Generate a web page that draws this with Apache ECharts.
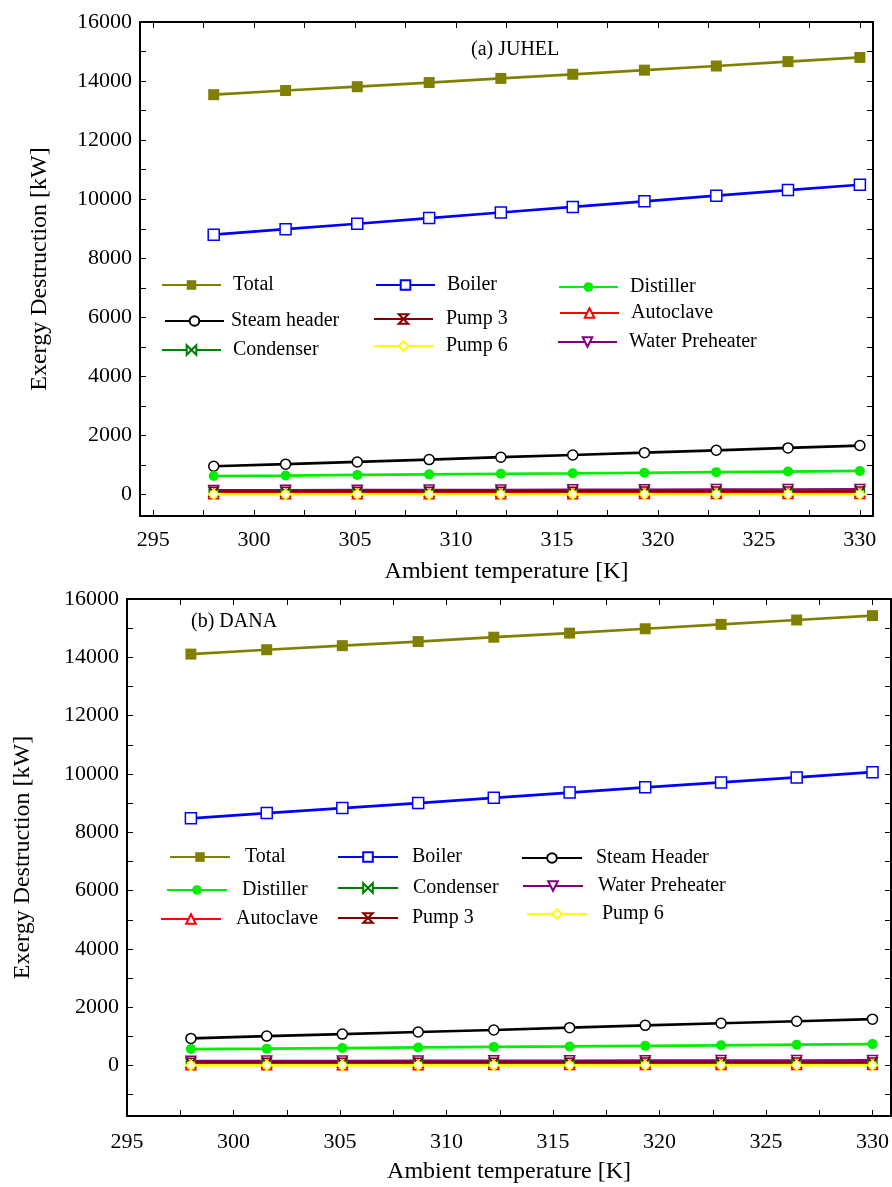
<!DOCTYPE html>
<html>
<head>
<meta charset="utf-8">
<script src="https://cdn.jsdelivr.net/npm/echarts@6/dist/echarts.min.js"></script>
<style>
html,body{margin:0;padding:0;background:#fff;}
#main{width:892px;height:1187px;}
</style>
</head>
<body>
<div id="main"></div>
<script>
// ---- data ----
const temps = [298, 301.56, 305.11, 308.67, 312.22, 315.78, 319.33, 322.89, 326.44, 330];

// (a) JUHEL
const juhelTotal = [13540, 13680, 13810, 13950, 14090, 14230, 14370, 14510, 14660, 14800];
const juhelBoiler = [8800, 8985, 9170, 9360, 9550, 9740, 9930, 10120, 10310, 10490];
const juhelSteam = [960, 1030, 1105, 1185, 1265, 1340, 1420, 1500, 1580, 1660];
const juhelDistiller = [630, 645, 665, 685, 705, 720, 740, 760, 780, 800];
const juhelWaterPre = [140, 144, 148, 152, 156, 160, 164, 168, 172, 176];
const juhelCondenser = [55, 56, 57, 58, 59, 60, 61, 62, 63, 64];
const juhelPump3 = [95, 96, 97, 98, 99, 100, 101, 102, 103, 104];
const juhelAutoclave = [30, 30, 31, 31, 32, 32, 33, 33, 34, 34];
const juhelPump6 = [8, 8, 8, 9, 9, 9, 9, 10, 10, 10];

// (b) DANA
const danaTotal = [14110, 14260, 14400, 14540, 14690, 14830, 14980, 15130, 15280, 15430];
const danaBoiler = [8480, 8660, 8830, 9000, 9180, 9360, 9540, 9710, 9880, 10060];
const danaSteam = [930, 1010, 1080, 1150, 1220, 1300, 1380, 1450, 1520, 1590];
const danaDistiller = [565, 580, 600, 620, 640, 655, 675, 695, 715, 735];
const danaWaterPre = [150, 153, 156, 159, 162, 165, 168, 171, 174, 177];
const danaCondenser = [55, 56, 57, 58, 59, 60, 61, 62, 63, 64];
const danaPump3 = [95, 96, 97, 98, 99, 100, 101, 102, 103, 104];
const danaAutoclave = [30, 30, 31, 31, 32, 32, 33, 33, 34, 34];
const danaPump6 = [8, 8, 8, 9, 9, 9, 9, 10, 10, 10];

const yLabelValues = [0, 2000, 4000, 6000, 8000, 10000, 12000, 14000, 16000];
const yTickValuesA = [0, 1000, 2000, 3000, 4000, 5000, 6000, 7000, 8000, 9000, 10000, 11000, 12000, 13000, 14000, 15000, 16000];
const yTickValuesB = [-1000, 0, 1000, 2000, 3000, 4000, 5000, 6000, 7000, 8000, 9000, 10000, 11000, 12000, 13000, 14000, 15000, 16000];
const xLabelValues = [295, 300, 305, 310, 315, 320, 325, 330];
const xTickValues = [295, 297.5, 300, 302.5, 305, 307.5, 310, 312.5, 315, 317.5, 320, 322.5, 325, 327.5, 330];

// ---- styles ----
const FONT = '"Liberation Serif", "DejaVu Serif", serif';
const pair = arr => arr.map((v, i) => [temps[i], v]);

const styles = {
  total:     {color: '#808000', symbol: 'rect', size: 11, open: false},
  boiler:    {color: '#0000ff', symbol: 'rect', size: 11, open: true},
  steam:     {color: '#000000', symbol: 'circle', size: 10, open: true},
  distiller: {color: '#00ee00', symbol: 'circle', size: 10, open: false},
  waterPre:  {color: '#800080', symbol: 'triangle', size: 10, open: true, rotate: 180},
  condenser: {color: '#008000', symbol: 'path://M0,0 L10,10 L10,0 L0,10 Z', size: 9, open: true},
  pump3:     {color: '#800000', symbol: 'path://M0,0 L10,0 L0,10 L10,10 Z', size: 9, open: true},
  autoclave: {color: '#ff0000', symbol: 'triangle', size: 10, open: true},
  pump6:     {color: '#ffff00', symbol: 'diamond', size: 10, open: true}
};

function mk(name, key, data, xi, yi) {
  const s = styles[key];
  return {
    type: 'line', name: name, xAxisIndex: xi, yAxisIndex: yi,
    data: pair(data),
    symbol: s.symbol, symbolSize: s.size, symbolRotate: s.rotate || 0,
    showAllSymbol: true,
    lineStyle: {color: s.color, width: 2.7},
    itemStyle: {color: s.open ? '#ffffff' : s.color, borderColor: s.color, borderWidth: s.open ? 1.5 : 0},
    emphasis: {disabled: true},
    animation: false
  };
}

function leg(name, left, centerY, pad, w) {
  return {
    data: [name], left: left, top: centerY - 11, orient: 'horizontal', padding: 0,
    itemWidth: w, itemHeight: 12, selectedMode: false,
    textStyle: {fontFamily: FONT, fontSize: 20, color: '#000', padding: [0, 0, 0, pad]}
  };
}

function xAx(grid, min, max, pos, show, name, nameGap, margin) {
  return {
    type: 'value', gridIndex: grid, min: min, max: max, position: pos,
    name: show ? name : '', nameLocation: 'middle', nameGap: nameGap,
    nameTextStyle: {fontFamily: FONT, fontSize: 24, color: '#000'},
    axisLine: {show: true, onZero: false, lineStyle: {color: '#000', width: 2}},
    axisTick: {show: true, inside: true, length: 6, customValues: xTickValues, lineStyle: {color: '#000', width: 1}},
    axisLabel: {show: show, customValues: xLabelValues, fontFamily: FONT, fontSize: 22, color: '#000', margin: margin},
    splitLine: {show: false}
  };
}

function yAx(grid, min, pos, show, name, nameGap, ticks) {
  return {
    type: 'value', gridIndex: grid, min: min, max: 16000, position: pos,
    name: show ? name : '', nameLocation: 'middle', nameGap: nameGap, nameRotate: 90,
    nameTextStyle: {fontFamily: FONT, fontSize: 24, color: '#000'},
    axisLine: {show: true, onZero: false, lineStyle: {color: '#000', width: 2}},
    axisTick: {show: true, inside: true, length: 6, customValues: ticks, lineStyle: {color: '#000', width: 1}},
    axisLabel: {show: show, customValues: yLabelValues, formatter: v => String(v),
      fontFamily: FONT, fontSize: 22, color: '#000', margin: 8},
    splitLine: {show: false}
  };
}

const chart = echarts.init(document.getElementById('main'), null, {renderer: 'canvas'});

const option = {
  backgroundColor: '#ffffff',
  animation: false,
  grid: [
    {left: 140, top: 22, width: 733, height: 494, containLabel: false},
    {left: 127, top: 599, width: 766, height: 517, containLabel: false}
  ],
  xAxis: [
    xAx(0, 294.35, 330.65, 'bottom', true, 'Ambient temperature [K]', 44, 13),
    xAx(0, 294.35, 330.65, 'top', false, '', 0, 0),
    xAx(1, 295, 330.87, 'bottom', true, 'Ambient temperature [K]', 44, 15),
    xAx(1, 295, 330.87, 'top', false, '', 0, 0)
  ],
  yAxis: [
    yAx(0, -725, 'left', true, 'Exergy Destruction [kW]', 88, yTickValuesA),
    yAx(0, -725, 'right', false, '', 0, yTickValuesA),
    yAx(1, -1730, 'left', true, 'Exergy Destruction [kW]', 92, yTickValuesB),
    yAx(1, -1730, 'right', false, '', 0, yTickValuesB)
  ],
  legend: [
    leg('Total', 161, 286, 7, 59),
    leg('Boiler', 375, 286, 7, 59),
    leg('Distiller', 558, 288, 7, 59),
    leg('Steam header', 164, 322, 2, 59),
    leg('Pump 3', 373, 320, 8, 59),
    leg('Autoclave', 559, 314, 7, 59),
    leg('Condenser', 161, 351, 7, 59),
    leg('Pump 6', 373, 347, 8, 59),
    leg('Water Preheater', 557, 343, 7, 59),
    // DANA legend
    leg('Total', 169, 858, 10, 60),
    leg('Boiler', 337, 858, 9, 60),
    leg('Steam Header', 521, 859, 9, 60),
    leg('Distiller', 166, 891, 10, 60),
    leg('Condenser', 337, 889, 10, 60),
    leg('Water Preheater', 522, 887, 10, 60),
    leg('Autoclave', 160, 920, 10, 60),
    leg('Pump 3', 337, 919, 9, 60),
    leg('Pump 6', 526, 915, 10, 60)
  ],
  graphic: [
    {type: 'text', left: 471, top: 40, style: {text: '(a) JUHEL', font: '20px ' + FONT, fill: '#000'}},
    {type: 'text', left: 191, top: 612, style: {text: '(b) DANA', font: '20px ' + FONT, fill: '#000'}}
  ],
  series: [
    mk('Total', 'total', juhelTotal, 0, 0),
    mk('Boiler', 'boiler', juhelBoiler, 0, 0),
    mk('Steam header', 'steam', juhelSteam, 0, 0),
    mk('Distiller', 'distiller', juhelDistiller, 0, 0),
    mk('Water Preheater', 'waterPre', juhelWaterPre, 0, 0),
    mk('Condenser', 'condenser', juhelCondenser, 0, 0),
    mk('Pump 3', 'pump3', juhelPump3, 0, 0),
    mk('Autoclave', 'autoclave', juhelAutoclave, 0, 0),
    mk('Pump 6', 'pump6', juhelPump6, 0, 0),

    mk('Total', 'total', danaTotal, 2, 2),
    mk('Boiler', 'boiler', danaBoiler, 2, 2),
    mk('Steam Header', 'steam', danaSteam, 2, 2),
    mk('Distiller', 'distiller', danaDistiller, 2, 2),
    mk('Water Preheater', 'waterPre', danaWaterPre, 2, 2),
    mk('Condenser', 'condenser', danaCondenser, 2, 2),
    mk('Pump 3', 'pump3', danaPump3, 2, 2),
    mk('Autoclave', 'autoclave', danaAutoclave, 2, 2),
    mk('Pump 6', 'pump6', danaPump6, 2, 2)
  ]
};
chart.setOption(option);
</script>
</body>
</html>
